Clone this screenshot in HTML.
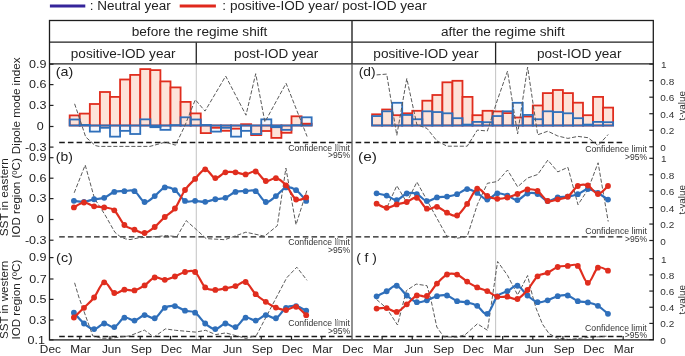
<!DOCTYPE html>
<html><head><meta charset="utf-8"><style>
html,body{margin:0;padding:0;background:#fff;}
svg{display:block;font-family:"Liberation Sans", sans-serif;}
text{opacity:0.999;}
svg{will-change:transform;}
</style></head><body>
<svg width="685" height="356" viewBox="0 0 685 356">
<rect width="685" height="356" fill="#fff"/>
<line x1="49.9" y1="5.9" x2="85.3" y2="5.9" stroke="#35249a" stroke-width="3" />
<text x="89.68" y="9.90" font-size="12.5" textLength="81.05" lengthAdjust="spacingAndGlyphs" fill="#222" >: Neutral year</text>
<line x1="179.7" y1="6.0" x2="215.9" y2="6.0" stroke="#e0281c" stroke-width="3" />
<text x="222.38" y="9.90" font-size="12.5" textLength="204.30" lengthAdjust="spacingAndGlyphs" fill="#222" >: positive-IOD year/ post-IOD year</text>
<line x1="196.3" y1="63.9" x2="196.3" y2="339.9" stroke="#c8c8c8" stroke-width="1.1" />
<line x1="495.6" y1="63.9" x2="495.6" y2="339.9" stroke="#c8c8c8" stroke-width="1.1" />
<line x1="59.2" y1="142.5" x2="352.0" y2="142.5" stroke="#1a1a1a" stroke-width="1.3" stroke-dasharray="5.6 3.1"/>
<line x1="355.6" y1="142.5" x2="623.2" y2="142.5" stroke="#1a1a1a" stroke-width="1.3" stroke-dasharray="5.6 3.1"/>
<line x1="59.2" y1="236.8" x2="352.0" y2="236.8" stroke="#1a1a1a" stroke-width="1.3" stroke-dasharray="5.6 3.1"/>
<line x1="355.6" y1="236.9" x2="623.2" y2="236.9" stroke="#1a1a1a" stroke-width="1.3" stroke-dasharray="5.6 3.1"/>
<line x1="59.2" y1="336.5" x2="352.0" y2="336.5" stroke="#1a1a1a" stroke-width="1.3" stroke-dasharray="5.6 3.1"/>
<line x1="355.6" y1="336.5" x2="623.2" y2="336.5" stroke="#1a1a1a" stroke-width="1.3" stroke-dasharray="5.6 3.1"/>
<rect x="69.67" y="119.50" width="10.08" height="6.00" fill="#f4f7fc" stroke="none" stroke-width="1.8"/>
<rect x="79.75" y="124.95" width="10.08" height="0.55" fill="#f4f7fc" stroke="none" stroke-width="1.8"/>
<rect x="89.83" y="125.50" width="10.08" height="6.10" fill="#f4f7fc" stroke="none" stroke-width="1.8"/>
<rect x="99.92" y="125.50" width="10.08" height="2.30" fill="#f4f7fc" stroke="none" stroke-width="1.8"/>
<rect x="110.00" y="125.50" width="10.08" height="11.15" fill="#f4f7fc" stroke="none" stroke-width="1.8"/>
<rect x="120.08" y="125.50" width="10.08" height="5.35" fill="#f4f7fc" stroke="none" stroke-width="1.8"/>
<rect x="130.17" y="125.50" width="10.08" height="8.50" fill="#f4f7fc" stroke="none" stroke-width="1.8"/>
<rect x="140.25" y="119.35" width="10.08" height="6.15" fill="#f4f7fc" stroke="none" stroke-width="1.8"/>
<rect x="150.33" y="125.50" width="10.08" height="1.70" fill="#f4f7fc" stroke="none" stroke-width="1.8"/>
<rect x="160.42" y="125.50" width="10.08" height="4.35" fill="#f4f7fc" stroke="none" stroke-width="1.8"/>
<rect x="170.50" y="125.10" width="10.08" height="0.40" fill="#f4f7fc" stroke="none" stroke-width="1.8"/>
<rect x="180.58" y="117.30" width="10.08" height="8.20" fill="#f4f7fc" stroke="none" stroke-width="1.8"/>
<rect x="190.67" y="119.50" width="10.08" height="6.00" fill="#f4f7fc" stroke="none" stroke-width="1.8"/>
<rect x="200.75" y="124.95" width="10.08" height="0.55" fill="#f4f7fc" stroke="none" stroke-width="1.8"/>
<rect x="210.83" y="125.50" width="10.08" height="6.10" fill="#f4f7fc" stroke="none" stroke-width="1.8"/>
<rect x="220.92" y="125.50" width="10.08" height="2.30" fill="#f4f7fc" stroke="none" stroke-width="1.8"/>
<rect x="231.00" y="125.50" width="10.08" height="11.15" fill="#f4f7fc" stroke="none" stroke-width="1.8"/>
<rect x="241.08" y="125.50" width="10.08" height="5.35" fill="#f4f7fc" stroke="none" stroke-width="1.8"/>
<rect x="251.17" y="125.50" width="10.08" height="8.50" fill="#f4f7fc" stroke="none" stroke-width="1.8"/>
<rect x="261.25" y="119.35" width="10.08" height="6.15" fill="#f4f7fc" stroke="none" stroke-width="1.8"/>
<rect x="271.33" y="125.50" width="10.08" height="1.70" fill="#f4f7fc" stroke="none" stroke-width="1.8"/>
<rect x="281.42" y="125.50" width="10.08" height="4.35" fill="#f4f7fc" stroke="none" stroke-width="1.8"/>
<rect x="291.50" y="125.10" width="10.08" height="0.40" fill="#f4f7fc" stroke="none" stroke-width="1.8"/>
<rect x="301.58" y="117.30" width="10.08" height="8.20" fill="#f4f7fc" stroke="none" stroke-width="1.8"/>
<rect x="372.09" y="116.05" width="10.04" height="9.45" fill="#f4f7fc" stroke="none" stroke-width="1.8"/>
<rect x="382.13" y="111.30" width="10.04" height="14.20" fill="#f4f7fc" stroke="none" stroke-width="1.8"/>
<rect x="392.17" y="102.80" width="10.04" height="22.70" fill="#f4f7fc" stroke="none" stroke-width="1.8"/>
<rect x="402.22" y="114.95" width="10.04" height="10.55" fill="#f4f7fc" stroke="none" stroke-width="1.8"/>
<rect x="412.26" y="119.25" width="10.04" height="6.25" fill="#f4f7fc" stroke="none" stroke-width="1.8"/>
<rect x="422.30" y="111.30" width="10.04" height="14.20" fill="#f4f7fc" stroke="none" stroke-width="1.8"/>
<rect x="432.35" y="112.05" width="10.04" height="13.45" fill="#f4f7fc" stroke="none" stroke-width="1.8"/>
<rect x="442.39" y="113.30" width="10.04" height="12.20" fill="#f4f7fc" stroke="none" stroke-width="1.8"/>
<rect x="452.43" y="118.20" width="10.04" height="7.30" fill="#f4f7fc" stroke="none" stroke-width="1.8"/>
<rect x="462.48" y="124.60" width="10.04" height="0.90" fill="#f4f7fc" stroke="none" stroke-width="1.8"/>
<rect x="472.52" y="121.90" width="10.04" height="3.60" fill="#f4f7fc" stroke="none" stroke-width="1.8"/>
<rect x="482.56" y="122.20" width="10.04" height="3.30" fill="#f4f7fc" stroke="none" stroke-width="1.8"/>
<rect x="492.61" y="116.05" width="10.04" height="9.45" fill="#f4f7fc" stroke="none" stroke-width="1.8"/>
<rect x="502.65" y="111.30" width="10.04" height="14.20" fill="#f4f7fc" stroke="none" stroke-width="1.8"/>
<rect x="512.69" y="102.80" width="10.04" height="22.70" fill="#f4f7fc" stroke="none" stroke-width="1.8"/>
<rect x="522.74" y="114.95" width="10.04" height="10.55" fill="#f4f7fc" stroke="none" stroke-width="1.8"/>
<rect x="532.78" y="119.25" width="10.04" height="6.25" fill="#f4f7fc" stroke="none" stroke-width="1.8"/>
<rect x="542.82" y="111.30" width="10.04" height="14.20" fill="#f4f7fc" stroke="none" stroke-width="1.8"/>
<rect x="552.87" y="112.05" width="10.04" height="13.45" fill="#f4f7fc" stroke="none" stroke-width="1.8"/>
<rect x="562.91" y="113.30" width="10.04" height="12.20" fill="#f4f7fc" stroke="none" stroke-width="1.8"/>
<rect x="572.95" y="118.20" width="10.04" height="7.30" fill="#f4f7fc" stroke="none" stroke-width="1.8"/>
<rect x="583.00" y="124.60" width="10.04" height="0.90" fill="#f4f7fc" stroke="none" stroke-width="1.8"/>
<rect x="593.04" y="121.90" width="10.04" height="3.60" fill="#f4f7fc" stroke="none" stroke-width="1.8"/>
<rect x="603.08" y="122.20" width="10.04" height="3.30" fill="#f4f7fc" stroke="none" stroke-width="1.8"/>
<rect x="69.67" y="115.40" width="10.08" height="10.10" fill="#fde3d9" stroke="#e02d1e" stroke-width="1.8"/>
<rect x="79.75" y="113.60" width="10.08" height="11.90" fill="#fde3d9" stroke="#e02d1e" stroke-width="1.8"/>
<rect x="89.83" y="104.00" width="10.08" height="21.50" fill="#fde3d9" stroke="#e02d1e" stroke-width="1.8"/>
<rect x="99.92" y="92.00" width="10.08" height="33.50" fill="#fde3d9" stroke="#e02d1e" stroke-width="1.8"/>
<rect x="110.00" y="96.90" width="10.08" height="28.60" fill="#fde3d9" stroke="#e02d1e" stroke-width="1.8"/>
<rect x="120.08" y="79.50" width="10.08" height="46.00" fill="#fde3d9" stroke="#e02d1e" stroke-width="1.8"/>
<rect x="130.17" y="74.90" width="10.08" height="50.60" fill="#fde3d9" stroke="#e02d1e" stroke-width="1.8"/>
<rect x="140.25" y="69.10" width="10.08" height="56.40" fill="#fde3d9" stroke="#e02d1e" stroke-width="1.8"/>
<rect x="150.33" y="70.10" width="10.08" height="55.40" fill="#fde3d9" stroke="#e02d1e" stroke-width="1.8"/>
<rect x="160.42" y="81.40" width="10.08" height="44.10" fill="#fde3d9" stroke="#e02d1e" stroke-width="1.8"/>
<rect x="170.50" y="87.40" width="10.08" height="38.10" fill="#fde3d9" stroke="#e02d1e" stroke-width="1.8"/>
<rect x="180.58" y="101.90" width="10.08" height="23.60" fill="#fde3d9" stroke="#e02d1e" stroke-width="1.8"/>
<rect x="190.67" y="113.40" width="10.08" height="12.10" fill="#fde3d9" stroke="#e02d1e" stroke-width="1.8"/>
<rect x="200.75" y="125.50" width="10.08" height="7.60" fill="#fde3d9" stroke="#e02d1e" stroke-width="1.8"/>
<rect x="210.83" y="125.50" width="10.08" height="2.30" fill="#fde3d9" stroke="#e02d1e" stroke-width="1.8"/>
<rect x="220.92" y="125.50" width="10.08" height="5.30" fill="#fde3d9" stroke="#e02d1e" stroke-width="1.8"/>
<rect x="231.00" y="125.50" width="10.08" height="3.20" fill="#fde3d9" stroke="#e02d1e" stroke-width="1.8"/>
<rect x="241.08" y="124.20" width="10.08" height="1.30" fill="#fde3d9" stroke="#e02d1e" stroke-width="1.8"/>
<rect x="251.17" y="125.50" width="10.08" height="9.60" fill="#fde3d9" stroke="#e02d1e" stroke-width="1.8"/>
<rect x="261.25" y="125.50" width="10.08" height="5.50" fill="#fde3d9" stroke="#e02d1e" stroke-width="1.8"/>
<rect x="271.33" y="125.50" width="10.08" height="12.40" fill="#fde3d9" stroke="#e02d1e" stroke-width="1.8"/>
<rect x="281.42" y="125.50" width="10.08" height="7.30" fill="#fde3d9" stroke="#e02d1e" stroke-width="1.8"/>
<rect x="291.50" y="116.30" width="10.08" height="9.20" fill="#fde3d9" stroke="#e02d1e" stroke-width="1.8"/>
<rect x="301.58" y="123.70" width="10.08" height="1.80" fill="#fde3d9" stroke="#e02d1e" stroke-width="1.8"/>
<rect x="372.09" y="114.30" width="10.04" height="11.20" fill="#fde3d9" stroke="#e02d1e" stroke-width="1.8"/>
<rect x="382.13" y="109.50" width="10.04" height="16.00" fill="#fde3d9" stroke="#e02d1e" stroke-width="1.8"/>
<rect x="392.17" y="115.20" width="10.04" height="10.30" fill="#fde3d9" stroke="#e02d1e" stroke-width="1.8"/>
<rect x="402.22" y="113.30" width="10.04" height="12.20" fill="#fde3d9" stroke="#e02d1e" stroke-width="1.8"/>
<rect x="412.26" y="110.80" width="10.04" height="14.70" fill="#fde3d9" stroke="#e02d1e" stroke-width="1.8"/>
<rect x="422.30" y="100.70" width="10.04" height="24.80" fill="#fde3d9" stroke="#e02d1e" stroke-width="1.8"/>
<rect x="432.35" y="95.00" width="10.04" height="30.50" fill="#fde3d9" stroke="#e02d1e" stroke-width="1.8"/>
<rect x="442.39" y="82.30" width="10.04" height="43.20" fill="#fde3d9" stroke="#e02d1e" stroke-width="1.8"/>
<rect x="452.43" y="80.80" width="10.04" height="44.70" fill="#fde3d9" stroke="#e02d1e" stroke-width="1.8"/>
<rect x="462.48" y="96.90" width="10.04" height="28.60" fill="#fde3d9" stroke="#e02d1e" stroke-width="1.8"/>
<rect x="472.52" y="115.20" width="10.04" height="10.30" fill="#fde3d9" stroke="#e02d1e" stroke-width="1.8"/>
<rect x="482.56" y="110.80" width="10.04" height="14.70" fill="#fde3d9" stroke="#e02d1e" stroke-width="1.8"/>
<rect x="492.61" y="111.40" width="10.04" height="14.10" fill="#fde3d9" stroke="#e02d1e" stroke-width="1.8"/>
<rect x="502.65" y="113.10" width="10.04" height="12.40" fill="#fde3d9" stroke="#e02d1e" stroke-width="1.8"/>
<rect x="512.69" y="117.50" width="10.04" height="8.00" fill="#fde3d9" stroke="#e02d1e" stroke-width="1.8"/>
<rect x="522.74" y="116.50" width="10.04" height="9.00" fill="#fde3d9" stroke="#e02d1e" stroke-width="1.8"/>
<rect x="532.78" y="105.50" width="10.04" height="20.00" fill="#fde3d9" stroke="#e02d1e" stroke-width="1.8"/>
<rect x="542.82" y="93.10" width="10.04" height="32.40" fill="#fde3d9" stroke="#e02d1e" stroke-width="1.8"/>
<rect x="552.87" y="90.00" width="10.04" height="35.50" fill="#fde3d9" stroke="#e02d1e" stroke-width="1.8"/>
<rect x="562.91" y="93.10" width="10.04" height="32.40" fill="#fde3d9" stroke="#e02d1e" stroke-width="1.8"/>
<rect x="572.95" y="102.70" width="10.04" height="22.80" fill="#fde3d9" stroke="#e02d1e" stroke-width="1.8"/>
<rect x="583.00" y="115.20" width="10.04" height="10.30" fill="#fde3d9" stroke="#e02d1e" stroke-width="1.8"/>
<rect x="593.04" y="96.90" width="10.04" height="28.60" fill="#fde3d9" stroke="#e02d1e" stroke-width="1.8"/>
<rect x="603.08" y="107.60" width="10.04" height="17.90" fill="#fde3d9" stroke="#e02d1e" stroke-width="1.8"/>
<rect x="69.67" y="119.50" width="10.08" height="6.00" fill="none" stroke="#2f6fba" stroke-width="1.8"/>
<rect x="79.75" y="124.95" width="10.08" height="0.55" fill="none" stroke="#2f6fba" stroke-width="1.8"/>
<rect x="89.83" y="125.50" width="10.08" height="6.10" fill="none" stroke="#2f6fba" stroke-width="1.8"/>
<rect x="99.92" y="125.50" width="10.08" height="2.30" fill="none" stroke="#2f6fba" stroke-width="1.8"/>
<rect x="110.00" y="125.50" width="10.08" height="11.15" fill="none" stroke="#2f6fba" stroke-width="1.8"/>
<rect x="120.08" y="125.50" width="10.08" height="5.35" fill="none" stroke="#2f6fba" stroke-width="1.8"/>
<rect x="130.17" y="125.50" width="10.08" height="8.50" fill="none" stroke="#2f6fba" stroke-width="1.8"/>
<rect x="140.25" y="119.35" width="10.08" height="6.15" fill="none" stroke="#2f6fba" stroke-width="1.8"/>
<rect x="150.33" y="125.50" width="10.08" height="1.70" fill="none" stroke="#2f6fba" stroke-width="1.8"/>
<rect x="160.42" y="125.50" width="10.08" height="4.35" fill="none" stroke="#2f6fba" stroke-width="1.8"/>
<rect x="170.50" y="125.10" width="10.08" height="0.40" fill="none" stroke="#2f6fba" stroke-width="1.8"/>
<rect x="180.58" y="117.30" width="10.08" height="8.20" fill="none" stroke="#2f6fba" stroke-width="1.8"/>
<rect x="190.67" y="119.50" width="10.08" height="6.00" fill="none" stroke="#2f6fba" stroke-width="1.8"/>
<rect x="200.75" y="124.95" width="10.08" height="0.55" fill="none" stroke="#2f6fba" stroke-width="1.8"/>
<rect x="210.83" y="125.50" width="10.08" height="6.10" fill="none" stroke="#2f6fba" stroke-width="1.8"/>
<rect x="220.92" y="125.50" width="10.08" height="2.30" fill="none" stroke="#2f6fba" stroke-width="1.8"/>
<rect x="231.00" y="125.50" width="10.08" height="11.15" fill="none" stroke="#2f6fba" stroke-width="1.8"/>
<rect x="241.08" y="125.50" width="10.08" height="5.35" fill="none" stroke="#2f6fba" stroke-width="1.8"/>
<rect x="251.17" y="125.50" width="10.08" height="8.50" fill="none" stroke="#2f6fba" stroke-width="1.8"/>
<rect x="261.25" y="119.35" width="10.08" height="6.15" fill="none" stroke="#2f6fba" stroke-width="1.8"/>
<rect x="271.33" y="125.50" width="10.08" height="1.70" fill="none" stroke="#2f6fba" stroke-width="1.8"/>
<rect x="281.42" y="125.50" width="10.08" height="4.35" fill="none" stroke="#2f6fba" stroke-width="1.8"/>
<rect x="291.50" y="125.10" width="10.08" height="0.40" fill="none" stroke="#2f6fba" stroke-width="1.8"/>
<rect x="301.58" y="117.30" width="10.08" height="8.20" fill="none" stroke="#2f6fba" stroke-width="1.8"/>
<rect x="372.09" y="116.05" width="10.04" height="9.45" fill="none" stroke="#2f6fba" stroke-width="1.8"/>
<rect x="382.13" y="111.30" width="10.04" height="14.20" fill="none" stroke="#2f6fba" stroke-width="1.8"/>
<rect x="392.17" y="102.80" width="10.04" height="22.70" fill="none" stroke="#2f6fba" stroke-width="1.8"/>
<rect x="402.22" y="114.95" width="10.04" height="10.55" fill="none" stroke="#2f6fba" stroke-width="1.8"/>
<rect x="412.26" y="119.25" width="10.04" height="6.25" fill="none" stroke="#2f6fba" stroke-width="1.8"/>
<rect x="422.30" y="111.30" width="10.04" height="14.20" fill="none" stroke="#2f6fba" stroke-width="1.8"/>
<rect x="432.35" y="112.05" width="10.04" height="13.45" fill="none" stroke="#2f6fba" stroke-width="1.8"/>
<rect x="442.39" y="113.30" width="10.04" height="12.20" fill="none" stroke="#2f6fba" stroke-width="1.8"/>
<rect x="452.43" y="118.20" width="10.04" height="7.30" fill="none" stroke="#2f6fba" stroke-width="1.8"/>
<rect x="462.48" y="124.60" width="10.04" height="0.90" fill="none" stroke="#2f6fba" stroke-width="1.8"/>
<rect x="472.52" y="121.90" width="10.04" height="3.60" fill="none" stroke="#2f6fba" stroke-width="1.8"/>
<rect x="482.56" y="122.20" width="10.04" height="3.30" fill="none" stroke="#2f6fba" stroke-width="1.8"/>
<rect x="492.61" y="116.05" width="10.04" height="9.45" fill="none" stroke="#2f6fba" stroke-width="1.8"/>
<rect x="502.65" y="111.30" width="10.04" height="14.20" fill="none" stroke="#2f6fba" stroke-width="1.8"/>
<rect x="512.69" y="102.80" width="10.04" height="22.70" fill="none" stroke="#2f6fba" stroke-width="1.8"/>
<rect x="522.74" y="114.95" width="10.04" height="10.55" fill="none" stroke="#2f6fba" stroke-width="1.8"/>
<rect x="532.78" y="119.25" width="10.04" height="6.25" fill="none" stroke="#2f6fba" stroke-width="1.8"/>
<rect x="542.82" y="111.30" width="10.04" height="14.20" fill="none" stroke="#2f6fba" stroke-width="1.8"/>
<rect x="552.87" y="112.05" width="10.04" height="13.45" fill="none" stroke="#2f6fba" stroke-width="1.8"/>
<rect x="562.91" y="113.30" width="10.04" height="12.20" fill="none" stroke="#2f6fba" stroke-width="1.8"/>
<rect x="572.95" y="118.20" width="10.04" height="7.30" fill="none" stroke="#2f6fba" stroke-width="1.8"/>
<rect x="583.00" y="124.60" width="10.04" height="0.90" fill="none" stroke="#2f6fba" stroke-width="1.8"/>
<rect x="593.04" y="121.90" width="10.04" height="3.60" fill="none" stroke="#2f6fba" stroke-width="1.8"/>
<rect x="603.08" y="122.20" width="10.04" height="3.30" fill="none" stroke="#2f6fba" stroke-width="1.8"/>
<polyline points="74.60,103.80 80.10,120.00 85.70,137.00 92.00,142.60 95.10,145.50 99.00,146.40 150.00,146.40 165.50,142.10 175.50,145.20 184.80,125.90 195.30,99.70 205.00,111.10 225.70,76.10 246.00,115.20 255.70,73.70 264.90,122.00 286.10,83.30 307.10,136.50" fill="none" stroke="#5a5a5a" stroke-width="1.0" stroke-dasharray="4.1 1.9" stroke-linejoin="round"/>
<polyline points="376.60,74.90 386.70,74.10 396.80,135.30 406.80,78.50 416.90,124.70 427.00,128.40 437.00,141.00 447.10,146.20 467.20,146.20 477.30,130.10 487.40,131.00 497.40,100.00 507.50,71.20 517.60,134.00 527.60,67.00 537.70,134.80 547.80,131.20 557.80,136.00 567.90,138.40 578.00,136.40 588.00,137.70 598.10,145.50 608.20,134.50" fill="none" stroke="#5a5a5a" stroke-width="1.0" stroke-dasharray="4.1 1.9" stroke-linejoin="round"/>
<polyline points="74.20,192.80 85.20,165.00 94.50,198.50 104.80,214.50 114.90,232.30 120.00,236.50 125.40,238.90 130.00,239.60 138.40,237.90 158.60,236.40 166.40,235.50 176.90,236.70 186.20,220.60 196.70,229.90 206.10,238.60 224.80,239.70 245.80,232.20 264.50,236.20 277.30,225.70 285.90,168.10 296.00,224.70 306.90,190.40" fill="none" stroke="#5a5a5a" stroke-width="1.0" stroke-dasharray="4.1 1.9" stroke-linejoin="round"/>
<polyline points="376.60,204.20 386.70,208.00 396.80,185.70 406.80,202.50 416.90,182.00 446.70,236.00 457.20,238.20 467.20,236.50 477.30,204.70 487.40,183.30 497.40,181.50 507.50,170.00 517.60,186.80 527.60,178.00 537.70,174.50 547.80,160.10 557.80,171.90 567.90,167.30 578.00,204.70 588.00,189.50 598.10,162.80 608.20,221.50" fill="none" stroke="#5a5a5a" stroke-width="1.0" stroke-dasharray="4.1 1.9" stroke-linejoin="round"/>
<polyline points="74.60,282.80 78.80,297.00 92.80,335.90 101.50,338.20 110.30,338.20 129.50,335.90 144.40,330.10 154.00,337.10 165.40,328.90 175.30,330.30 195.50,332.10 205.60,330.30 215.70,334.60 225.80,332.90 246.00,338.40 256.40,335.40 286.70,277.80 296.80,267.20 307.00,280.30" fill="none" stroke="#5a5a5a" stroke-width="1.0" stroke-dasharray="4.1 1.9" stroke-linejoin="round"/>
<polyline points="376.60,299.50 386.70,308.30 397.50,325.00 406.40,290.60 416.20,284.10 427.00,285.70 430.90,299.50 436.80,327.00 443.70,336.80 457.20,337.20 465.30,334.60 477.40,323.80 487.50,330.30 497.60,261.50 507.50,275.30 517.60,295.00 527.60,275.50 532.30,295.00 536.00,308.10 542.50,324.20 549.10,333.70 557.10,338.00 568.80,339.50 589.20,337.30 602.40,336.60 608.20,336.00" fill="none" stroke="#5a5a5a" stroke-width="1.0" stroke-dasharray="4.1 1.9" stroke-linejoin="round"/>
<path d="M73.90,200.85 C75.58,201.01 80.63,202.07 84.00,201.80 C87.37,201.53 90.73,199.92 94.10,199.25 C97.47,198.58 100.83,199.03 104.20,197.80 C107.57,196.58 110.93,193.01 114.30,191.90 C117.67,190.79 121.03,191.28 124.40,191.15 C127.77,191.03 131.13,189.34 134.50,191.15 C137.87,192.96 141.23,201.18 144.60,202.00 C147.97,202.82 151.33,198.48 154.70,196.05 C158.07,193.62 161.43,188.43 164.80,187.45 C168.17,186.47 171.53,187.91 174.90,190.15 C178.27,192.39 181.63,199.12 185.00,200.90 C188.37,202.68 191.73,200.70 195.10,200.85 C198.47,201.00 201.83,202.07 205.20,201.80 C208.57,201.53 211.93,199.92 215.30,199.25 C218.67,198.58 222.03,199.03 225.40,197.80 C228.77,196.58 232.13,193.01 235.50,191.90 C238.87,190.79 242.23,191.28 245.60,191.15 C248.97,191.03 252.33,189.34 255.70,191.15 C259.07,192.96 262.43,201.18 265.80,202.00 C269.17,202.82 272.53,198.48 275.90,196.05 C279.27,193.62 282.63,188.43 286.00,187.45 C289.37,186.47 292.73,187.91 296.10,190.15 C299.47,192.39 304.52,199.11 306.20,200.90" fill="none" stroke="#2f6fba" stroke-width="2.2" stroke-linejoin="round" stroke-linecap="round"/>
<circle cx="73.90" cy="200.85" r="2.9" fill="#2f6fba"/>
<circle cx="84.00" cy="201.80" r="2.9" fill="#2f6fba"/>
<circle cx="94.10" cy="199.25" r="2.9" fill="#2f6fba"/>
<circle cx="104.20" cy="197.80" r="2.9" fill="#2f6fba"/>
<circle cx="114.30" cy="191.90" r="2.9" fill="#2f6fba"/>
<circle cx="124.40" cy="191.15" r="2.9" fill="#2f6fba"/>
<circle cx="134.50" cy="191.15" r="2.9" fill="#2f6fba"/>
<circle cx="144.60" cy="202.00" r="2.9" fill="#2f6fba"/>
<circle cx="154.70" cy="196.05" r="2.9" fill="#2f6fba"/>
<circle cx="164.80" cy="187.45" r="2.9" fill="#2f6fba"/>
<circle cx="174.90" cy="190.15" r="2.9" fill="#2f6fba"/>
<circle cx="185.00" cy="200.90" r="2.9" fill="#2f6fba"/>
<circle cx="195.10" cy="200.85" r="2.9" fill="#2f6fba"/>
<circle cx="205.20" cy="201.80" r="2.9" fill="#2f6fba"/>
<circle cx="215.30" cy="199.25" r="2.9" fill="#2f6fba"/>
<circle cx="225.40" cy="197.80" r="2.9" fill="#2f6fba"/>
<circle cx="235.50" cy="191.90" r="2.9" fill="#2f6fba"/>
<circle cx="245.60" cy="191.15" r="2.9" fill="#2f6fba"/>
<circle cx="255.70" cy="191.15" r="2.9" fill="#2f6fba"/>
<circle cx="265.80" cy="202.00" r="2.9" fill="#2f6fba"/>
<circle cx="275.90" cy="196.05" r="2.9" fill="#2f6fba"/>
<circle cx="286.00" cy="187.45" r="2.9" fill="#2f6fba"/>
<circle cx="296.10" cy="190.15" r="2.9" fill="#2f6fba"/>
<circle cx="306.20" cy="200.90" r="2.9" fill="#2f6fba"/>
<path d="M73.90,207.40 C75.58,206.58 80.63,202.68 84.00,202.50 C87.37,202.32 90.73,205.48 94.10,206.30 C97.47,207.12 100.83,206.73 104.20,207.40 C107.57,208.07 110.93,207.37 114.30,210.30 C117.67,213.23 121.03,221.77 124.40,225.00 C127.77,228.23 131.13,228.37 134.50,229.70 C137.87,231.03 141.23,233.45 144.60,233.00 C147.97,232.55 151.33,229.67 154.70,227.00 C158.07,224.33 161.43,220.08 164.80,217.00 C168.17,213.92 171.53,213.00 174.90,208.50 C178.27,204.00 181.63,194.93 185.00,190.00 C188.37,185.07 191.73,182.35 195.10,178.90 C198.47,175.45 201.83,169.43 205.20,169.30 C208.57,169.17 211.93,177.60 215.30,178.10 C218.67,178.60 222.03,173.27 225.40,172.30 C228.77,171.33 232.13,171.95 235.50,172.30 C238.87,172.65 242.23,174.53 245.60,174.40 C248.97,174.27 252.33,170.40 255.70,171.50 C259.07,172.60 262.43,179.88 265.80,181.00 C269.17,182.12 272.53,177.48 275.90,178.20 C279.27,178.92 282.63,181.75 286.00,185.30 C289.37,188.85 292.73,197.48 296.10,199.50 C299.47,201.52 304.52,197.75 306.20,197.40" fill="none" stroke="#e02d1e" stroke-width="2.2" stroke-linejoin="round" stroke-linecap="round"/>
<circle cx="73.90" cy="207.40" r="2.9" fill="#e02d1e"/>
<circle cx="84.00" cy="202.50" r="2.9" fill="#e02d1e"/>
<circle cx="94.10" cy="206.30" r="2.9" fill="#e02d1e"/>
<circle cx="104.20" cy="207.40" r="2.9" fill="#e02d1e"/>
<circle cx="114.30" cy="210.30" r="2.9" fill="#e02d1e"/>
<circle cx="124.40" cy="225.00" r="2.9" fill="#e02d1e"/>
<circle cx="134.50" cy="229.70" r="2.9" fill="#e02d1e"/>
<circle cx="144.60" cy="233.00" r="2.9" fill="#e02d1e"/>
<circle cx="154.70" cy="227.00" r="2.9" fill="#e02d1e"/>
<circle cx="164.80" cy="217.00" r="2.9" fill="#e02d1e"/>
<circle cx="174.90" cy="208.50" r="2.9" fill="#e02d1e"/>
<circle cx="185.00" cy="190.00" r="2.9" fill="#e02d1e"/>
<circle cx="195.10" cy="178.90" r="2.9" fill="#e02d1e"/>
<circle cx="205.20" cy="169.30" r="2.9" fill="#e02d1e"/>
<circle cx="215.30" cy="178.10" r="2.9" fill="#e02d1e"/>
<circle cx="225.40" cy="172.30" r="2.9" fill="#e02d1e"/>
<circle cx="235.50" cy="172.30" r="2.9" fill="#e02d1e"/>
<circle cx="245.60" cy="174.40" r="2.9" fill="#e02d1e"/>
<circle cx="255.70" cy="171.50" r="2.9" fill="#e02d1e"/>
<circle cx="265.80" cy="181.00" r="2.9" fill="#e02d1e"/>
<circle cx="275.90" cy="178.20" r="2.9" fill="#e02d1e"/>
<circle cx="286.00" cy="185.30" r="2.9" fill="#e02d1e"/>
<circle cx="296.10" cy="199.50" r="2.9" fill="#e02d1e"/>
<circle cx="306.20" cy="197.40" r="2.9" fill="#e02d1e"/>
<path d="M376.60,193.35 C378.28,193.72 383.31,194.48 386.66,195.60 C390.01,196.72 393.37,200.40 396.72,200.05 C400.07,199.70 403.43,194.50 406.78,193.50 C410.13,192.50 413.49,192.78 416.84,194.05 C420.19,195.32 423.55,200.54 426.90,201.10 C430.25,201.66 433.61,198.15 436.96,197.40 C440.31,196.65 443.67,197.13 447.02,196.60 C450.37,196.07 453.73,195.45 457.08,194.20 C460.43,192.95 463.79,189.31 467.14,189.10 C470.49,188.89 473.85,191.20 477.20,192.95 C480.55,194.70 483.91,199.53 487.26,199.60 C490.61,199.67 493.97,194.02 497.32,193.35 C500.67,192.68 504.03,194.48 507.38,195.60 C510.73,196.72 514.09,200.40 517.44,200.05 C520.79,199.70 524.15,194.50 527.50,193.50 C530.85,192.50 534.21,192.78 537.56,194.05 C540.91,195.32 544.27,200.54 547.62,201.10 C550.97,201.66 554.33,198.15 557.68,197.40 C561.03,196.65 564.39,197.13 567.74,196.60 C571.09,196.07 574.45,195.45 577.80,194.20 C581.15,192.95 584.51,189.31 587.86,189.10 C591.21,188.89 594.57,191.20 597.92,192.95 C601.27,194.70 606.30,198.49 607.98,199.60" fill="none" stroke="#2f6fba" stroke-width="2.2" stroke-linejoin="round" stroke-linecap="round"/>
<circle cx="376.60" cy="193.35" r="2.9" fill="#2f6fba"/>
<circle cx="386.66" cy="195.60" r="2.9" fill="#2f6fba"/>
<circle cx="396.72" cy="200.05" r="2.9" fill="#2f6fba"/>
<circle cx="406.78" cy="193.50" r="2.9" fill="#2f6fba"/>
<circle cx="416.84" cy="194.05" r="2.9" fill="#2f6fba"/>
<circle cx="426.90" cy="201.10" r="2.9" fill="#2f6fba"/>
<circle cx="436.96" cy="197.40" r="2.9" fill="#2f6fba"/>
<circle cx="447.02" cy="196.60" r="2.9" fill="#2f6fba"/>
<circle cx="457.08" cy="194.20" r="2.9" fill="#2f6fba"/>
<circle cx="467.14" cy="189.10" r="2.9" fill="#2f6fba"/>
<circle cx="477.20" cy="192.95" r="2.9" fill="#2f6fba"/>
<circle cx="487.26" cy="199.60" r="2.9" fill="#2f6fba"/>
<circle cx="497.32" cy="193.35" r="2.9" fill="#2f6fba"/>
<circle cx="507.38" cy="195.60" r="2.9" fill="#2f6fba"/>
<circle cx="517.44" cy="200.05" r="2.9" fill="#2f6fba"/>
<circle cx="527.50" cy="193.50" r="2.9" fill="#2f6fba"/>
<circle cx="537.56" cy="194.05" r="2.9" fill="#2f6fba"/>
<circle cx="547.62" cy="201.10" r="2.9" fill="#2f6fba"/>
<circle cx="557.68" cy="197.40" r="2.9" fill="#2f6fba"/>
<circle cx="567.74" cy="196.60" r="2.9" fill="#2f6fba"/>
<circle cx="577.80" cy="194.20" r="2.9" fill="#2f6fba"/>
<circle cx="587.86" cy="189.10" r="2.9" fill="#2f6fba"/>
<circle cx="597.92" cy="192.95" r="2.9" fill="#2f6fba"/>
<circle cx="607.98" cy="199.60" r="2.9" fill="#2f6fba"/>
<path d="M376.60,203.70 C378.28,204.38 383.31,207.68 386.66,207.80 C390.01,207.92 393.37,205.37 396.72,204.40 C400.07,203.43 403.43,203.10 406.78,202.00 C410.13,200.90 413.49,196.68 416.84,197.80 C420.19,198.92 423.55,207.20 426.90,208.70 C430.25,210.20 433.61,206.13 436.96,206.80 C440.31,207.47 443.67,211.25 447.02,212.70 C450.37,214.15 453.73,216.97 457.08,215.50 C460.43,214.03 463.79,208.37 467.14,203.90 C470.49,199.43 473.85,190.03 477.20,188.70 C480.55,187.37 483.91,194.22 487.26,195.90 C490.61,197.58 493.97,198.53 497.32,198.80 C500.67,199.07 504.03,198.30 507.38,197.50 C510.73,196.70 514.09,195.33 517.44,194.00 C520.79,192.67 524.15,190.00 527.50,189.50 C530.85,189.00 534.21,189.08 537.56,191.00 C540.91,192.92 544.27,199.62 547.62,201.00 C550.97,202.38 554.33,200.02 557.68,199.30 C561.03,198.58 564.39,198.92 567.74,196.70 C571.09,194.48 574.45,187.87 577.80,186.00 C581.15,184.13 584.51,184.17 587.86,185.50 C591.21,186.83 594.57,193.92 597.92,194.00 C601.27,194.08 606.30,187.33 607.98,186.00" fill="none" stroke="#e02d1e" stroke-width="2.2" stroke-linejoin="round" stroke-linecap="round"/>
<circle cx="376.60" cy="203.70" r="2.9" fill="#e02d1e"/>
<circle cx="386.66" cy="207.80" r="2.9" fill="#e02d1e"/>
<circle cx="396.72" cy="204.40" r="2.9" fill="#e02d1e"/>
<circle cx="406.78" cy="202.00" r="2.9" fill="#e02d1e"/>
<circle cx="416.84" cy="197.80" r="2.9" fill="#e02d1e"/>
<circle cx="426.90" cy="208.70" r="2.9" fill="#e02d1e"/>
<circle cx="436.96" cy="206.80" r="2.9" fill="#e02d1e"/>
<circle cx="447.02" cy="212.70" r="2.9" fill="#e02d1e"/>
<circle cx="457.08" cy="215.50" r="2.9" fill="#e02d1e"/>
<circle cx="467.14" cy="203.90" r="2.9" fill="#e02d1e"/>
<circle cx="477.20" cy="188.70" r="2.9" fill="#e02d1e"/>
<circle cx="487.26" cy="195.90" r="2.9" fill="#e02d1e"/>
<circle cx="497.32" cy="198.80" r="2.9" fill="#e02d1e"/>
<circle cx="507.38" cy="197.50" r="2.9" fill="#e02d1e"/>
<circle cx="517.44" cy="194.00" r="2.9" fill="#e02d1e"/>
<circle cx="527.50" cy="189.50" r="2.9" fill="#e02d1e"/>
<circle cx="537.56" cy="191.00" r="2.9" fill="#e02d1e"/>
<circle cx="547.62" cy="201.00" r="2.9" fill="#e02d1e"/>
<circle cx="557.68" cy="199.30" r="2.9" fill="#e02d1e"/>
<circle cx="567.74" cy="196.70" r="2.9" fill="#e02d1e"/>
<circle cx="577.80" cy="186.00" r="2.9" fill="#e02d1e"/>
<circle cx="587.86" cy="185.50" r="2.9" fill="#e02d1e"/>
<circle cx="597.92" cy="194.00" r="2.9" fill="#e02d1e"/>
<circle cx="607.98" cy="186.00" r="2.9" fill="#e02d1e"/>
<path d="M73.90,312.65 C75.58,314.46 80.63,320.77 84.00,323.50 C87.37,326.23 90.73,329.05 94.10,329.05 C97.47,329.05 100.83,323.82 104.20,323.50 C107.57,323.18 110.93,328.08 114.30,327.10 C117.67,326.12 121.03,318.74 124.40,317.65 C127.77,316.56 131.13,320.97 134.50,320.55 C137.87,320.12 141.23,315.48 144.60,315.10 C147.97,314.72 151.33,319.47 154.70,318.25 C158.07,317.03 161.43,309.83 164.80,307.80 C168.17,305.77 171.53,305.57 174.90,306.05 C178.27,306.53 181.63,309.60 185.00,310.70 C188.37,311.80 191.73,310.52 195.10,312.65 C198.47,314.78 201.83,320.77 205.20,323.50 C208.57,326.23 211.93,329.05 215.30,329.05 C218.67,329.05 222.03,323.82 225.40,323.50 C228.77,323.18 232.13,328.08 235.50,327.10 C238.87,326.12 242.23,318.74 245.60,317.65 C248.97,316.56 252.33,320.97 255.70,320.55 C259.07,320.12 262.43,315.48 265.80,315.10 C269.17,314.72 272.53,319.47 275.90,318.25 C279.27,317.03 282.63,309.83 286.00,307.80 C289.37,305.77 292.73,305.57 296.10,306.05 C299.47,306.53 304.52,309.93 306.20,310.70" fill="none" stroke="#2f6fba" stroke-width="2.2" stroke-linejoin="round" stroke-linecap="round"/>
<circle cx="73.90" cy="312.65" r="2.9" fill="#2f6fba"/>
<circle cx="84.00" cy="323.50" r="2.9" fill="#2f6fba"/>
<circle cx="94.10" cy="329.05" r="2.9" fill="#2f6fba"/>
<circle cx="104.20" cy="323.50" r="2.9" fill="#2f6fba"/>
<circle cx="114.30" cy="327.10" r="2.9" fill="#2f6fba"/>
<circle cx="124.40" cy="317.65" r="2.9" fill="#2f6fba"/>
<circle cx="134.50" cy="320.55" r="2.9" fill="#2f6fba"/>
<circle cx="144.60" cy="315.10" r="2.9" fill="#2f6fba"/>
<circle cx="154.70" cy="318.25" r="2.9" fill="#2f6fba"/>
<circle cx="164.80" cy="307.80" r="2.9" fill="#2f6fba"/>
<circle cx="174.90" cy="306.05" r="2.9" fill="#2f6fba"/>
<circle cx="185.00" cy="310.70" r="2.9" fill="#2f6fba"/>
<circle cx="195.10" cy="312.65" r="2.9" fill="#2f6fba"/>
<circle cx="205.20" cy="323.50" r="2.9" fill="#2f6fba"/>
<circle cx="215.30" cy="329.05" r="2.9" fill="#2f6fba"/>
<circle cx="225.40" cy="323.50" r="2.9" fill="#2f6fba"/>
<circle cx="235.50" cy="327.10" r="2.9" fill="#2f6fba"/>
<circle cx="245.60" cy="317.65" r="2.9" fill="#2f6fba"/>
<circle cx="255.70" cy="320.55" r="2.9" fill="#2f6fba"/>
<circle cx="265.80" cy="315.10" r="2.9" fill="#2f6fba"/>
<circle cx="275.90" cy="318.25" r="2.9" fill="#2f6fba"/>
<circle cx="286.00" cy="307.80" r="2.9" fill="#2f6fba"/>
<circle cx="296.10" cy="306.05" r="2.9" fill="#2f6fba"/>
<circle cx="306.20" cy="310.70" r="2.9" fill="#2f6fba"/>
<path d="M73.90,317.50 C75.58,315.88 80.63,311.13 84.00,307.80 C87.37,304.47 90.73,301.75 94.10,297.50 C97.47,293.25 100.83,283.05 104.20,282.30 C107.57,281.55 110.93,291.77 114.30,293.00 C117.67,294.23 121.03,290.13 124.40,289.70 C127.77,289.27 131.13,291.12 134.50,290.40 C137.87,289.68 141.23,287.55 144.60,285.40 C147.97,283.25 151.33,278.43 154.70,277.50 C158.07,276.57 161.43,279.97 164.80,279.80 C168.17,279.63 171.53,277.80 174.90,276.50 C178.27,275.20 181.63,272.75 185.00,272.00 C188.37,271.25 191.73,269.43 195.10,272.00 C198.47,274.57 201.83,284.42 205.20,287.40 C208.57,290.38 211.93,289.73 215.30,289.90 C218.67,290.07 222.03,289.03 225.40,288.40 C228.77,287.77 232.13,287.17 235.50,286.10 C238.87,285.03 242.23,280.65 245.60,282.00 C248.97,283.35 252.33,290.90 255.70,294.20 C259.07,297.50 262.43,299.57 265.80,301.80 C269.17,304.03 272.53,306.22 275.90,307.60 C279.27,308.98 282.63,310.23 286.00,310.10 C289.37,309.97 292.73,305.95 296.10,306.80 C299.47,307.65 304.52,313.80 306.20,315.20" fill="none" stroke="#e02d1e" stroke-width="2.2" stroke-linejoin="round" stroke-linecap="round"/>
<circle cx="73.90" cy="317.50" r="2.9" fill="#e02d1e"/>
<circle cx="84.00" cy="307.80" r="2.9" fill="#e02d1e"/>
<circle cx="94.10" cy="297.50" r="2.9" fill="#e02d1e"/>
<circle cx="104.20" cy="282.30" r="2.9" fill="#e02d1e"/>
<circle cx="114.30" cy="293.00" r="2.9" fill="#e02d1e"/>
<circle cx="124.40" cy="289.70" r="2.9" fill="#e02d1e"/>
<circle cx="134.50" cy="290.40" r="2.9" fill="#e02d1e"/>
<circle cx="144.60" cy="285.40" r="2.9" fill="#e02d1e"/>
<circle cx="154.70" cy="277.50" r="2.9" fill="#e02d1e"/>
<circle cx="164.80" cy="279.80" r="2.9" fill="#e02d1e"/>
<circle cx="174.90" cy="276.50" r="2.9" fill="#e02d1e"/>
<circle cx="185.00" cy="272.00" r="2.9" fill="#e02d1e"/>
<circle cx="195.10" cy="272.00" r="2.9" fill="#e02d1e"/>
<circle cx="205.20" cy="287.40" r="2.9" fill="#e02d1e"/>
<circle cx="215.30" cy="289.90" r="2.9" fill="#e02d1e"/>
<circle cx="225.40" cy="288.40" r="2.9" fill="#e02d1e"/>
<circle cx="235.50" cy="286.10" r="2.9" fill="#e02d1e"/>
<circle cx="245.60" cy="282.00" r="2.9" fill="#e02d1e"/>
<circle cx="255.70" cy="294.20" r="2.9" fill="#e02d1e"/>
<circle cx="265.80" cy="301.80" r="2.9" fill="#e02d1e"/>
<circle cx="275.90" cy="307.60" r="2.9" fill="#e02d1e"/>
<circle cx="286.00" cy="310.10" r="2.9" fill="#e02d1e"/>
<circle cx="296.10" cy="306.80" r="2.9" fill="#e02d1e"/>
<circle cx="306.20" cy="315.20" r="2.9" fill="#e02d1e"/>
<path d="M376.60,296.30 C378.28,295.46 383.31,293.01 386.66,291.25 C390.01,289.49 393.37,285.04 396.72,285.75 C400.07,286.46 403.43,292.76 406.78,295.50 C410.13,298.24 413.49,301.40 416.84,302.20 C420.19,303.00 423.55,301.30 426.90,300.30 C430.25,299.30 433.61,297.00 436.96,296.20 C440.31,295.40 443.67,294.68 447.02,295.50 C450.37,296.32 453.73,299.99 457.08,301.15 C460.43,302.31 463.79,301.67 467.14,302.45 C470.49,303.23 473.85,303.96 477.20,305.85 C480.55,307.74 483.91,315.39 487.26,313.80 C490.61,312.21 493.97,300.06 497.32,296.30 C500.67,292.54 504.03,293.01 507.38,291.25 C510.73,289.49 514.09,285.04 517.44,285.75 C520.79,286.46 524.15,292.76 527.50,295.50 C530.85,298.24 534.21,301.40 537.56,302.20 C540.91,303.00 544.27,301.30 547.62,300.30 C550.97,299.30 554.33,297.00 557.68,296.20 C561.03,295.40 564.39,294.68 567.74,295.50 C571.09,296.32 574.45,299.99 577.80,301.15 C581.15,302.31 584.51,301.67 587.86,302.45 C591.21,303.23 594.57,303.96 597.92,305.85 C601.27,307.74 606.30,312.47 607.98,313.80" fill="none" stroke="#2f6fba" stroke-width="2.2" stroke-linejoin="round" stroke-linecap="round"/>
<circle cx="376.60" cy="296.30" r="2.9" fill="#2f6fba"/>
<circle cx="386.66" cy="291.25" r="2.9" fill="#2f6fba"/>
<circle cx="396.72" cy="285.75" r="2.9" fill="#2f6fba"/>
<circle cx="406.78" cy="295.50" r="2.9" fill="#2f6fba"/>
<circle cx="416.84" cy="302.20" r="2.9" fill="#2f6fba"/>
<circle cx="426.90" cy="300.30" r="2.9" fill="#2f6fba"/>
<circle cx="436.96" cy="296.20" r="2.9" fill="#2f6fba"/>
<circle cx="447.02" cy="295.50" r="2.9" fill="#2f6fba"/>
<circle cx="457.08" cy="301.15" r="2.9" fill="#2f6fba"/>
<circle cx="467.14" cy="302.45" r="2.9" fill="#2f6fba"/>
<circle cx="477.20" cy="305.85" r="2.9" fill="#2f6fba"/>
<circle cx="487.26" cy="313.80" r="2.9" fill="#2f6fba"/>
<circle cx="497.32" cy="296.30" r="2.9" fill="#2f6fba"/>
<circle cx="507.38" cy="291.25" r="2.9" fill="#2f6fba"/>
<circle cx="517.44" cy="285.75" r="2.9" fill="#2f6fba"/>
<circle cx="527.50" cy="295.50" r="2.9" fill="#2f6fba"/>
<circle cx="537.56" cy="302.20" r="2.9" fill="#2f6fba"/>
<circle cx="547.62" cy="300.30" r="2.9" fill="#2f6fba"/>
<circle cx="557.68" cy="296.20" r="2.9" fill="#2f6fba"/>
<circle cx="567.74" cy="295.50" r="2.9" fill="#2f6fba"/>
<circle cx="577.80" cy="301.15" r="2.9" fill="#2f6fba"/>
<circle cx="587.86" cy="302.45" r="2.9" fill="#2f6fba"/>
<circle cx="597.92" cy="305.85" r="2.9" fill="#2f6fba"/>
<circle cx="607.98" cy="313.80" r="2.9" fill="#2f6fba"/>
<path d="M376.60,308.60 C378.28,308.52 383.31,307.55 386.66,308.10 C390.01,308.65 393.37,312.53 396.72,311.90 C400.07,311.27 403.43,307.03 406.78,304.30 C410.13,301.57 413.49,296.88 416.84,295.50 C420.19,294.12 423.55,297.98 426.90,296.00 C430.25,294.02 433.61,287.18 436.96,283.60 C440.31,280.02 443.67,276.00 447.02,274.50 C450.37,273.00 453.73,273.42 457.08,274.60 C460.43,275.78 463.79,279.47 467.14,281.60 C470.49,283.73 473.85,285.82 477.20,287.40 C480.55,288.98 483.91,289.55 487.26,291.10 C490.61,292.65 493.97,295.77 497.32,296.70 C500.67,297.63 504.03,296.32 507.38,296.70 C510.73,297.08 514.09,300.12 517.44,299.00 C520.79,297.88 524.15,293.78 527.50,290.00 C530.85,286.22 534.21,279.17 537.56,276.30 C540.91,273.43 544.27,274.35 547.62,272.80 C550.97,271.25 554.33,268.15 557.68,267.00 C561.03,265.85 564.39,266.08 567.74,265.90 C571.09,265.72 574.45,263.08 577.80,265.90 C581.15,268.72 584.51,282.50 587.86,282.80 C591.21,283.10 594.57,269.72 597.92,267.70 C601.27,265.68 606.30,270.20 607.98,270.70" fill="none" stroke="#e02d1e" stroke-width="2.2" stroke-linejoin="round" stroke-linecap="round"/>
<circle cx="376.60" cy="308.60" r="2.9" fill="#e02d1e"/>
<circle cx="386.66" cy="308.10" r="2.9" fill="#e02d1e"/>
<circle cx="396.72" cy="311.90" r="2.9" fill="#e02d1e"/>
<circle cx="406.78" cy="304.30" r="2.9" fill="#e02d1e"/>
<circle cx="416.84" cy="295.50" r="2.9" fill="#e02d1e"/>
<circle cx="426.90" cy="296.00" r="2.9" fill="#e02d1e"/>
<circle cx="436.96" cy="283.60" r="2.9" fill="#e02d1e"/>
<circle cx="447.02" cy="274.50" r="2.9" fill="#e02d1e"/>
<circle cx="457.08" cy="274.60" r="2.9" fill="#e02d1e"/>
<circle cx="467.14" cy="281.60" r="2.9" fill="#e02d1e"/>
<circle cx="477.20" cy="287.40" r="2.9" fill="#e02d1e"/>
<circle cx="487.26" cy="291.10" r="2.9" fill="#e02d1e"/>
<circle cx="497.32" cy="296.70" r="2.9" fill="#e02d1e"/>
<circle cx="507.38" cy="296.70" r="2.9" fill="#e02d1e"/>
<circle cx="517.44" cy="299.00" r="2.9" fill="#e02d1e"/>
<circle cx="527.50" cy="290.00" r="2.9" fill="#e02d1e"/>
<circle cx="537.56" cy="276.30" r="2.9" fill="#e02d1e"/>
<circle cx="547.62" cy="272.80" r="2.9" fill="#e02d1e"/>
<circle cx="557.68" cy="267.00" r="2.9" fill="#e02d1e"/>
<circle cx="567.74" cy="265.90" r="2.9" fill="#e02d1e"/>
<circle cx="577.80" cy="265.90" r="2.9" fill="#e02d1e"/>
<circle cx="587.86" cy="282.80" r="2.9" fill="#e02d1e"/>
<circle cx="597.92" cy="267.70" r="2.9" fill="#e02d1e"/>
<circle cx="607.98" cy="270.70" r="2.9" fill="#e02d1e"/>
<text x="288.27" y="150.50" font-size="8.6" textLength="61.72" lengthAdjust="spacingAndGlyphs" fill="#333" >Confidence limit</text>
<text x="328.07" y="158.30" font-size="8.6" textLength="22.13" lengthAdjust="spacingAndGlyphs" fill="#333" >&gt;95%</text>
<text x="288.17" y="244.90" font-size="8.6" textLength="61.72" lengthAdjust="spacingAndGlyphs" fill="#333" >Confidence limit</text>
<text x="327.97" y="253.10" font-size="8.6" textLength="22.13" lengthAdjust="spacingAndGlyphs" fill="#333" >&gt;95%</text>
<text x="288.17" y="326.10" font-size="8.6" textLength="61.72" lengthAdjust="spacingAndGlyphs" fill="#333" >Confidence limit</text>
<text x="327.97" y="333.60" font-size="8.6" textLength="22.13" lengthAdjust="spacingAndGlyphs" fill="#333" >&gt;95%</text>
<text x="585.17" y="152.20" font-size="8.6" textLength="61.72" lengthAdjust="spacingAndGlyphs" fill="#333" >Confidence limit</text>
<text x="624.97" y="159.80" font-size="8.6" textLength="22.13" lengthAdjust="spacingAndGlyphs" fill="#333" >&gt;95%</text>
<text x="585.17" y="234.00" font-size="8.6" textLength="61.72" lengthAdjust="spacingAndGlyphs" fill="#333" >Confidence limit</text>
<text x="624.97" y="242.20" font-size="8.6" textLength="22.13" lengthAdjust="spacingAndGlyphs" fill="#333" >&gt;95%</text>
<text x="585.07" y="330.70" font-size="8.6" textLength="61.72" lengthAdjust="spacingAndGlyphs" fill="#333" >Confidence limit</text>
<text x="624.87" y="338.10" font-size="8.6" textLength="22.13" lengthAdjust="spacingAndGlyphs" fill="#333" >&gt;95%</text>
<rect x="335.4" y="144.4" width="4.8" height="5.80" fill="#c2c2c2" fill-opacity="0.92"/>
<rect x="335.4" y="239.0" width="4.8" height="5.80" fill="#c2c2c2" fill-opacity="0.92"/>
<rect x="335.4" y="320.2" width="4.8" height="5.80" fill="#c2c2c2" fill-opacity="0.92"/>
<rect x="49.5" y="20.5" width="603.8" height="319.4" fill="none" stroke="#1e1e1e" stroke-width="1.3"/>
<line x1="49.5" y1="42.2" x2="653.3" y2="42.2" stroke="#1e1e1e" stroke-width="1.3" />
<line x1="49.5" y1="63.9" x2="653.3" y2="63.9" stroke="#1e1e1e" stroke-width="1.3" />
<line x1="352.0" y1="20.5" x2="352.0" y2="63.9" stroke="#333" stroke-width="1.5" />
<line x1="352.0" y1="63.9" x2="352.0" y2="339.9" stroke="#555" stroke-width="1.3" />
<line x1="196.3" y1="42.2" x2="196.3" y2="63.9" stroke="#333" stroke-width="1.4" />
<line x1="495.6" y1="42.2" x2="495.6" y2="63.9" stroke="#222" stroke-width="1.3" />
<text x="131.71" y="35.80" font-size="12.5" textLength="135.62" lengthAdjust="spacingAndGlyphs" fill="#222" >before the regime shift</text>
<text x="440.96" y="35.80" font-size="12.5" textLength="123.72" lengthAdjust="spacingAndGlyphs" fill="#222" >after the regime shift</text>
<text x="70.82" y="57.80" font-size="12.5" textLength="104.65" lengthAdjust="spacingAndGlyphs" fill="#222" >positive-IOD year</text>
<text x="234.12" y="57.80" font-size="12.5" textLength="84.14" lengthAdjust="spacingAndGlyphs" fill="#222" >post-IOD year</text>
<text x="373.32" y="57.80" font-size="12.5" textLength="105.15" lengthAdjust="spacingAndGlyphs" fill="#222" >positive-IOD year</text>
<text x="536.92" y="57.80" font-size="12.5" textLength="84.54" lengthAdjust="spacingAndGlyphs" fill="#222" >post-IOD year</text>
<line x1="49.5" y1="64.2" x2="53.5" y2="64.2" stroke="#222" stroke-width="1.2" />
<line x1="49.5" y1="84.6" x2="53.5" y2="84.6" stroke="#222" stroke-width="1.2" />
<line x1="49.5" y1="105.4" x2="53.5" y2="105.4" stroke="#222" stroke-width="1.2" />
<line x1="49.5" y1="126.5" x2="53.5" y2="126.5" stroke="#222" stroke-width="1.2" />
<line x1="49.5" y1="147.1" x2="53.5" y2="147.1" stroke="#222" stroke-width="1.2" />
<line x1="49.5" y1="157.7" x2="53.5" y2="157.7" stroke="#222" stroke-width="1.2" />
<line x1="49.5" y1="178.2" x2="53.5" y2="178.2" stroke="#222" stroke-width="1.2" />
<line x1="49.5" y1="198.6" x2="53.5" y2="198.6" stroke="#222" stroke-width="1.2" />
<line x1="49.5" y1="219.5" x2="53.5" y2="219.5" stroke="#222" stroke-width="1.2" />
<line x1="49.5" y1="240.2" x2="53.5" y2="240.2" stroke="#222" stroke-width="1.2" />
<line x1="49.5" y1="257.6" x2="53.5" y2="257.6" stroke="#222" stroke-width="1.2" />
<line x1="49.5" y1="279.0" x2="53.5" y2="279.0" stroke="#222" stroke-width="1.2" />
<line x1="49.5" y1="299.4" x2="53.5" y2="299.4" stroke="#222" stroke-width="1.2" />
<line x1="49.5" y1="320.0" x2="53.5" y2="320.0" stroke="#222" stroke-width="1.2" />
<line x1="49.5" y1="339.9" x2="53.5" y2="339.9" stroke="#222" stroke-width="1.2" />
<line x1="649.3" y1="64.1" x2="653.3" y2="64.1" stroke="#222" stroke-width="1.2" />
<line x1="649.3" y1="80.64" x2="653.3" y2="80.64" stroke="#222" stroke-width="1.2" />
<line x1="649.3" y1="97.18" x2="653.3" y2="97.18" stroke="#222" stroke-width="1.2" />
<line x1="649.3" y1="113.72" x2="653.3" y2="113.72" stroke="#222" stroke-width="1.2" />
<line x1="649.3" y1="130.26" x2="653.3" y2="130.26" stroke="#222" stroke-width="1.2" />
<line x1="649.3" y1="146.8" x2="653.3" y2="146.8" stroke="#222" stroke-width="1.2" />
<line x1="649.3" y1="158.3" x2="653.3" y2="158.3" stroke="#222" stroke-width="1.2" />
<line x1="649.3" y1="174.74" x2="653.3" y2="174.74" stroke="#222" stroke-width="1.2" />
<line x1="649.3" y1="191.18" x2="653.3" y2="191.18" stroke="#222" stroke-width="1.2" />
<line x1="649.3" y1="207.62" x2="653.3" y2="207.62" stroke="#222" stroke-width="1.2" />
<line x1="649.3" y1="224.06" x2="653.3" y2="224.06" stroke="#222" stroke-width="1.2" />
<line x1="649.3" y1="240.5" x2="653.3" y2="240.5" stroke="#222" stroke-width="1.2" />
<line x1="649.3" y1="258.7" x2="653.3" y2="258.7" stroke="#222" stroke-width="1.2" />
<line x1="649.3" y1="274.88" x2="653.3" y2="274.88" stroke="#222" stroke-width="1.2" />
<line x1="649.3" y1="291.06" x2="653.3" y2="291.06" stroke="#222" stroke-width="1.2" />
<line x1="649.3" y1="307.24" x2="653.3" y2="307.24" stroke="#222" stroke-width="1.2" />
<line x1="649.3" y1="323.42" x2="653.3" y2="323.42" stroke="#222" stroke-width="1.2" />
<line x1="649.3" y1="339.6" x2="653.3" y2="339.6" stroke="#222" stroke-width="1.2" />
<line x1="79.75" y1="339.9" x2="79.75" y2="335.9" stroke="#222" stroke-width="1.2" />
<line x1="110.0" y1="339.9" x2="110.0" y2="335.9" stroke="#222" stroke-width="1.2" />
<line x1="140.25" y1="339.9" x2="140.25" y2="335.9" stroke="#222" stroke-width="1.2" />
<line x1="170.5" y1="339.9" x2="170.5" y2="335.9" stroke="#222" stroke-width="1.2" />
<line x1="200.75" y1="339.9" x2="200.75" y2="335.9" stroke="#222" stroke-width="1.2" />
<line x1="231.0" y1="339.9" x2="231.0" y2="335.9" stroke="#222" stroke-width="1.2" />
<line x1="261.25" y1="339.9" x2="261.25" y2="335.9" stroke="#222" stroke-width="1.2" />
<line x1="291.5" y1="339.9" x2="291.5" y2="335.9" stroke="#222" stroke-width="1.2" />
<line x1="321.75" y1="339.9" x2="321.75" y2="335.9" stroke="#222" stroke-width="1.2" />
<line x1="382.13" y1="339.9" x2="382.13" y2="335.9" stroke="#222" stroke-width="1.2" />
<line x1="412.26" y1="339.9" x2="412.26" y2="335.9" stroke="#222" stroke-width="1.2" />
<line x1="442.39" y1="339.9" x2="442.39" y2="335.9" stroke="#222" stroke-width="1.2" />
<line x1="472.52" y1="339.9" x2="472.52" y2="335.9" stroke="#222" stroke-width="1.2" />
<line x1="502.65" y1="339.9" x2="502.65" y2="335.9" stroke="#222" stroke-width="1.2" />
<line x1="532.78" y1="339.9" x2="532.78" y2="335.9" stroke="#222" stroke-width="1.2" />
<line x1="562.91" y1="339.9" x2="562.91" y2="335.9" stroke="#222" stroke-width="1.2" />
<line x1="593.04" y1="339.9" x2="593.04" y2="335.9" stroke="#222" stroke-width="1.2" />
<line x1="623.17" y1="339.9" x2="623.17" y2="335.9" stroke="#222" stroke-width="1.2" />
<text x="29.13" y="67.92" font-size="11.2" textLength="17.44" lengthAdjust="spacingAndGlyphs" fill="#222" >0.9</text>
<text x="29.07" y="88.32" font-size="11.2" textLength="17.44" lengthAdjust="spacingAndGlyphs" fill="#222" >0.6</text>
<text x="29.07" y="109.12" font-size="11.2" textLength="17.44" lengthAdjust="spacingAndGlyphs" fill="#222" >0.3</text>
<text x="36.88" y="130.22" font-size="11.2" textLength="6.98" lengthAdjust="spacingAndGlyphs" fill="#222" >0</text>
<text x="24.93" y="150.82" font-size="11.2" textLength="21.62" lengthAdjust="spacingAndGlyphs" fill="#222" >-0.3</text>
<text x="29.13" y="161.42" font-size="11.2" textLength="17.44" lengthAdjust="spacingAndGlyphs" fill="#222" >0.9</text>
<text x="29.07" y="181.92" font-size="11.2" textLength="17.44" lengthAdjust="spacingAndGlyphs" fill="#222" >0.6</text>
<text x="29.07" y="202.32" font-size="11.2" textLength="17.44" lengthAdjust="spacingAndGlyphs" fill="#222" >0.3</text>
<text x="36.88" y="223.22" font-size="11.2" textLength="6.98" lengthAdjust="spacingAndGlyphs" fill="#222" >0</text>
<text x="24.93" y="243.92" font-size="11.2" textLength="21.62" lengthAdjust="spacingAndGlyphs" fill="#222" >-0.3</text>
<text x="29.13" y="261.32" font-size="11.2" textLength="17.44" lengthAdjust="spacingAndGlyphs" fill="#222" >0.9</text>
<text x="29.19" y="282.72" font-size="11.2" textLength="17.44" lengthAdjust="spacingAndGlyphs" fill="#222" >0.7</text>
<text x="29.07" y="303.12" font-size="11.2" textLength="17.44" lengthAdjust="spacingAndGlyphs" fill="#222" >0.5</text>
<text x="29.07" y="323.72" font-size="11.2" textLength="17.44" lengthAdjust="spacingAndGlyphs" fill="#222" >0.3</text>
<text x="27.43" y="343.62" font-size="11.2" textLength="17.44" lengthAdjust="spacingAndGlyphs" fill="#222" >0.1</text>
<text x="661.05" y="68.14" font-size="8.4" textLength="5.56" lengthAdjust="spacingAndGlyphs" fill="#333" >1</text>
<text x="660.30" y="84.68" font-size="8.4" textLength="13.90" lengthAdjust="spacingAndGlyphs" fill="#333" >0.8</text>
<text x="660.30" y="101.22" font-size="8.4" textLength="13.90" lengthAdjust="spacingAndGlyphs" fill="#333" >0.6</text>
<text x="660.30" y="117.76" font-size="8.4" textLength="13.90" lengthAdjust="spacingAndGlyphs" fill="#333" >0.4</text>
<text x="660.30" y="134.30" font-size="8.4" textLength="13.90" lengthAdjust="spacingAndGlyphs" fill="#333" >0.2</text>
<text x="660.30" y="150.84" font-size="8.4" textLength="5.56" lengthAdjust="spacingAndGlyphs" fill="#333" >0</text>
<text x="661.05" y="162.34" font-size="8.4" textLength="5.56" lengthAdjust="spacingAndGlyphs" fill="#333" >1</text>
<text x="660.30" y="178.78" font-size="8.4" textLength="13.90" lengthAdjust="spacingAndGlyphs" fill="#333" >0.8</text>
<text x="660.30" y="195.22" font-size="8.4" textLength="13.90" lengthAdjust="spacingAndGlyphs" fill="#333" >0.6</text>
<text x="660.30" y="211.66" font-size="8.4" textLength="13.90" lengthAdjust="spacingAndGlyphs" fill="#333" >0.4</text>
<text x="660.30" y="228.10" font-size="8.4" textLength="13.90" lengthAdjust="spacingAndGlyphs" fill="#333" >0.2</text>
<text x="660.30" y="244.54" font-size="8.4" textLength="5.56" lengthAdjust="spacingAndGlyphs" fill="#333" >0</text>
<text x="661.05" y="262.74" font-size="8.4" textLength="5.56" lengthAdjust="spacingAndGlyphs" fill="#333" >1</text>
<text x="660.30" y="278.92" font-size="8.4" textLength="13.90" lengthAdjust="spacingAndGlyphs" fill="#333" >0.8</text>
<text x="660.30" y="295.10" font-size="8.4" textLength="13.90" lengthAdjust="spacingAndGlyphs" fill="#333" >0.6</text>
<text x="660.30" y="311.28" font-size="8.4" textLength="13.90" lengthAdjust="spacingAndGlyphs" fill="#333" >0.4</text>
<text x="660.30" y="327.46" font-size="8.4" textLength="13.90" lengthAdjust="spacingAndGlyphs" fill="#333" >0.2</text>
<text x="660.30" y="343.64" font-size="8.4" textLength="5.56" lengthAdjust="spacingAndGlyphs" fill="#333" >0</text>
<text x="39.83" y="353.10" font-size="11.5" textLength="21.06" lengthAdjust="spacingAndGlyphs" fill="#222" >Dec</text>
<text x="70.38" y="353.10" font-size="11.5" textLength="20.40" lengthAdjust="spacingAndGlyphs" fill="#222" >Mar</text>
<text x="101.96" y="353.10" font-size="11.5" textLength="19.10" lengthAdjust="spacingAndGlyphs" fill="#222" >Jun</text>
<text x="130.88" y="353.10" font-size="11.5" textLength="21.08" lengthAdjust="spacingAndGlyphs" fill="#222" >Sep</text>
<text x="160.83" y="353.10" font-size="11.5" textLength="21.06" lengthAdjust="spacingAndGlyphs" fill="#222" >Dec</text>
<text x="191.38" y="353.10" font-size="11.5" textLength="20.40" lengthAdjust="spacingAndGlyphs" fill="#222" >Mar</text>
<text x="222.96" y="353.10" font-size="11.5" textLength="19.10" lengthAdjust="spacingAndGlyphs" fill="#222" >Jun</text>
<text x="251.88" y="353.10" font-size="11.5" textLength="21.08" lengthAdjust="spacingAndGlyphs" fill="#222" >Sep</text>
<text x="281.83" y="353.10" font-size="11.5" textLength="21.06" lengthAdjust="spacingAndGlyphs" fill="#222" >Dec</text>
<text x="312.38" y="353.10" font-size="11.5" textLength="20.40" lengthAdjust="spacingAndGlyphs" fill="#222" >Mar</text>
<text x="342.33" y="353.10" font-size="11.5" textLength="21.06" lengthAdjust="spacingAndGlyphs" fill="#222" >Dec</text>
<text x="372.76" y="353.10" font-size="11.5" textLength="20.40" lengthAdjust="spacingAndGlyphs" fill="#222" >Mar</text>
<text x="404.22" y="353.10" font-size="11.5" textLength="19.10" lengthAdjust="spacingAndGlyphs" fill="#222" >Jun</text>
<text x="433.02" y="353.10" font-size="11.5" textLength="21.08" lengthAdjust="spacingAndGlyphs" fill="#222" >Sep</text>
<text x="462.85" y="353.10" font-size="11.5" textLength="21.06" lengthAdjust="spacingAndGlyphs" fill="#222" >Dec</text>
<text x="493.28" y="353.10" font-size="11.5" textLength="20.40" lengthAdjust="spacingAndGlyphs" fill="#222" >Mar</text>
<text x="524.74" y="353.10" font-size="11.5" textLength="19.10" lengthAdjust="spacingAndGlyphs" fill="#222" >Jun</text>
<text x="553.54" y="353.10" font-size="11.5" textLength="21.08" lengthAdjust="spacingAndGlyphs" fill="#222" >Sep</text>
<text x="583.37" y="353.10" font-size="11.5" textLength="21.06" lengthAdjust="spacingAndGlyphs" fill="#222" >Dec</text>
<text x="613.80" y="353.10" font-size="11.5" textLength="20.40" lengthAdjust="spacingAndGlyphs" fill="#222" >Mar</text>
<text x="55.84" y="76.14" font-size="12.6" textLength="17.45" lengthAdjust="spacingAndGlyphs" fill="#222" >(a)</text>
<text x="55.87" y="161.14" font-size="12.6" textLength="17.00" lengthAdjust="spacingAndGlyphs" fill="#222" >(b)</text>
<text x="56.14" y="261.54" font-size="12.6" textLength="16.74" lengthAdjust="spacingAndGlyphs" fill="#222" >(c)</text>
<text x="358.67" y="76.44" font-size="12.6" textLength="16.89" lengthAdjust="spacingAndGlyphs" fill="#222" >(d)</text>
<text x="358.07" y="161.24" font-size="12.6" textLength="18.89" lengthAdjust="spacingAndGlyphs" fill="#222" >(e)</text>
<text x="356.17" y="261.54" font-size="12.6" textLength="20.72" lengthAdjust="spacingAndGlyphs" fill="#222" >( f )</text>
<text transform="translate(20.20,154.13) rotate(-90)" x="0" y="0" font-size="11.7" textLength="96.63" lengthAdjust="spacingAndGlyphs" fill="#222">Dipole mode index</text>
<text transform="translate(7.90,236.33) rotate(-90)" x="0" y="0" font-size="11.7" textLength="78.12" lengthAdjust="spacingAndGlyphs" fill="#222">SST in eastern</text>
<text transform="translate(19.80,237.74) rotate(-90)" x="0" y="0" font-size="11.7" textLength="79.56" lengthAdjust="spacingAndGlyphs" fill="#222">IOD region (ºC)</text>
<text transform="translate(7.90,339.02) rotate(-90)" x="0" y="0" font-size="11.7" textLength="78.30" lengthAdjust="spacingAndGlyphs" fill="#222">SST in western</text>
<text transform="translate(19.80,339.55) rotate(-90)" x="0" y="0" font-size="11.7" textLength="79.76" lengthAdjust="spacingAndGlyphs" fill="#222">IOD region (ºC)</text>
<text transform="translate(684.80,120.55) rotate(-90)" x="0" y="0" font-size="8.4" textLength="29.40" lengthAdjust="spacingAndGlyphs" fill="#333">t-value</text>
<text transform="translate(684.80,214.55) rotate(-90)" x="0" y="0" font-size="8.4" textLength="29.40" lengthAdjust="spacingAndGlyphs" fill="#333">t-value</text>
<text transform="translate(684.80,314.55) rotate(-90)" x="0" y="0" font-size="8.4" textLength="29.40" lengthAdjust="spacingAndGlyphs" fill="#333">t-value</text>
</svg>
</body></html>
